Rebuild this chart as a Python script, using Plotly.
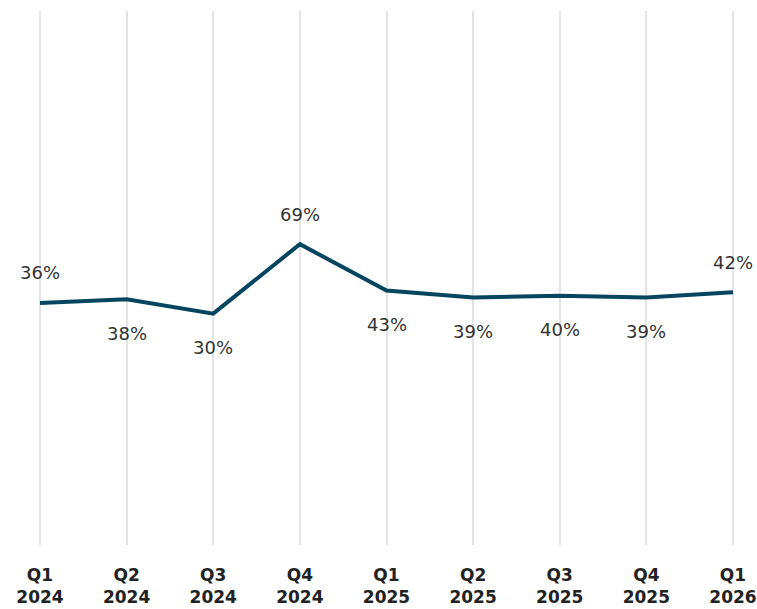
import plotly.graph_objects as go

quarters = ["Q1<br>2024", "Q2<br>2024", "Q3<br>2024", "Q4<br>2024", "Q1<br>2025",
            "Q2<br>2025", "Q3<br>2025", "Q4<br>2025", "Q1<br>2026"]
values = [36, 38, 30, 69, 43, 39, 40, 39, 42]
label_pos = ["above", "below", "below", "above", "below", "below", "below", "below", "above"]

FONT = "DejaVu Sans"
x_idx = list(range(len(quarters)))

fig = go.Figure()
fig.add_trace(go.Scatter(
    x=x_idx, y=values, mode="lines",
    line=dict(color="#06455f", width=4),
    hoverinfo="skip", showlegend=False,
))

for i, (v, p) in enumerate(zip(values, label_pos)):
    fig.add_annotation(
        x=i, y=v, text=f"{v}%", showarrow=False,
        yshift=30 if p == "above" else -34,
        font=dict(family=FONT, size=18, color="#333333"),
    )

spacing = (733 - 40) / 8
left_px, right_px = 10, 750
fig.update_layout(
    width=757, height=609,
    margin=dict(l=left_px, r=757 - right_px, t=11, b=64, autoexpand=False),
    paper_bgcolor="white", plot_bgcolor="white",
    xaxis=dict(
        range=[(left_px - 40) / spacing, 8 + (right_px - 733) / spacing],
        tickmode="array", tickvals=x_idx, ticktext=[f"<b>{q}</b>" for q in quarters],
        showgrid=True, gridcolor="#e4e4e4", gridwidth=2,
        zeroline=False, showline=False, automargin=False,
        tickfont=dict(family=FONT, size=17, color="#222222"),
        ticks="", ticklabelstandoff=18,
    ),
    yaxis=dict(
        range=[-100, 200], visible=False, showgrid=False, zeroline=False,
        automargin=False,
    ),
)

fig.write_html("out.html")
